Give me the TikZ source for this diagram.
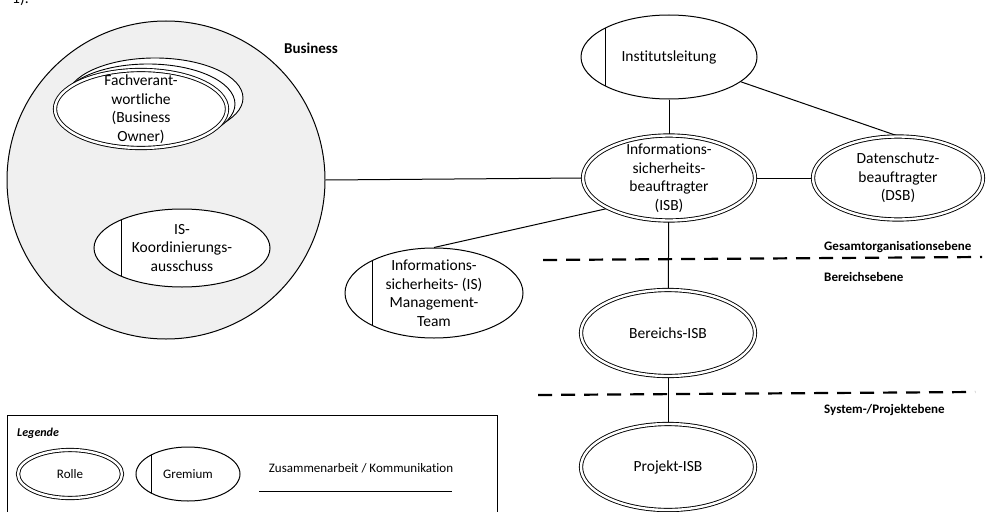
\documentclass[tikz,border=0pt]{standalone}
\usepackage{fontspec}
\setmainfont{Carlito}[Ligatures=NoCommon]
\usepackage{tikz}
\usetikzlibrary{shapes.geometric,backgrounds}

\definecolor{businessgray}{RGB}{240,240,240}

\tikzset{
  rolle/.style={ellipse,draw,double,line width=0.9pt,double distance=2.4pt,
    fill=white,inner sep=-30pt,align=center},
  gremium/.style={ellipse,draw,line width=1pt,fill=white,inner sep=-30pt,align=center,
    path picture={\draw[line width=1pt]
      ([xshift=#1]path picture bounding box.south west) --
      ([xshift=#1]path picture bounding box.north west);}},
  gremium/.default=25pt,
  stapel/.style={ellipse,draw,line width=0.9pt,fill=white,inner sep=0pt},
  link/.style={line width=1pt},
  ebene/.style={line width=2.2pt,dash pattern=on 14pt off 9pt},
  ebenetext/.style={font=\fontsize{13}{15}\selectfont\bfseries,anchor=west,inner sep=0pt},
  legtext/.style={font=\fontsize{13}{15}\selectfont},
}

\begin{document}
\begin{tikzpicture}[x=1pt,y=-1pt,font=\fontsize{15.5}{18.5}\selectfont]
  \useasboundingbox (0,0) rectangle (987,511);
  \clip (0,0) rectangle (987,511);

  % cut-off mark of the line above
  \node[anchor=base west,inner sep=0pt] (fn) at (12,4) {1).};

  % Business circle
  \node[circle,draw,line width=1pt,fill=businessgray,minimum size=318pt,inner sep=0pt]
    (business) at (166,180) {};
  \node[font=\fontsize{15}{18}\selectfont\bfseries] (businesslabel) at (311,48) {Business};

  % Fachverantwortliche (stacked roles)
  \node[stapel,minimum width=176pt,minimum height=80pt] (fach2) at (155,98) {};
  \node[stapel,minimum width=174pt,minimum height=80pt] (fach1) at (148,104) {};
  \node[rolle,minimum width=172pt,minimum height=78pt] (fach) at (141,109)
    {Fachverant-\\wortliche\\(Business\\Owner)};

  \node[gremium=27pt,minimum width=176pt,minimum height=78pt] (iskoord) at (182,248)
    {IS-\\Koordinierungs-\\ausschuss};

  % Gesamtorganisationsebene
  \node[gremium=24pt,minimum width=176pt,minimum height=84pt] (inst) at (669,57) {Institutsleitung};
  \node[rolle,minimum width=172pt,minimum height=85pt] (isb) at (669,178)
    {Informations-\\sicherheits-\\beauftragter\\(ISB)};
  \node[rolle,minimum width=170pt,minimum height=83pt] (dsb) at (898,178)
    {Datenschutz-\\beauftragter\\(DSB)};
  \node[gremium=27pt,minimum width=178pt,minimum height=90pt] (ismt) at (434,293)
    {Informations-\\sicherheits- (IS)\\Management-\\Team};

  % Bereichs- und Projektebene
  \node[rolle,minimum width=174pt,minimum height=86pt] (bisb) at (668,333) {Bereichs-ISB};
  \node[rolle,minimum width=174pt,minimum height=86pt] (pisb) at (668,467) {Projekt-ISB};

  % connections
  \begin{scope}[on background layer]
    \draw[link] (business.east) -- (isb.west);
    \draw[link] (inst) -- (isb);
    \draw[link] (inst) -- (dsb.north);
    \draw[link] (isb) -- (dsb);
    \draw[link] (isb.south west) -- (ismt.north);
    \draw[link] (isb) -- (bisb);
    \draw[link] (bisb) -- (pisb);
  \end{scope}

  % levels
  \draw[ebene] (543,260) -- (982,257);
  \draw[ebene] (538,395) -- (975,392);
  \node[ebenetext] (gesamt) at (824,247) {Gesamtorganisationsebene};
  \node[ebenetext] (bereich) at (824,277) {Bereichsebene};
  \node[ebenetext] (projekt) at (824,410) {System-/Projektebene};

  % legend
  \draw[line width=1pt] (7,415) rectangle (497,530);
  \node[font=\fontsize{12}{14}\selectfont\bfseries\itshape,anchor=west,inner sep=0pt]
    (legtitle) at (17,433) {Legende};
  \node[rolle,legtext,minimum width=104pt,minimum height=48pt] (legrolle) at (70,474) {Rolle};
  \node[gremium=15pt,legtext,minimum width=104pt,minimum height=54pt] (leggremium) at (188,474) {Gremium};
  \node[legtext] (legkomm) at (361,468) {Zusammenarbeit / Kommunikation};
  \coordinate (komm1) at (259,491);
  \coordinate (komm2) at (452,491);
  \draw[link] (komm1) -- (komm2);
\end{tikzpicture}
\end{document}
